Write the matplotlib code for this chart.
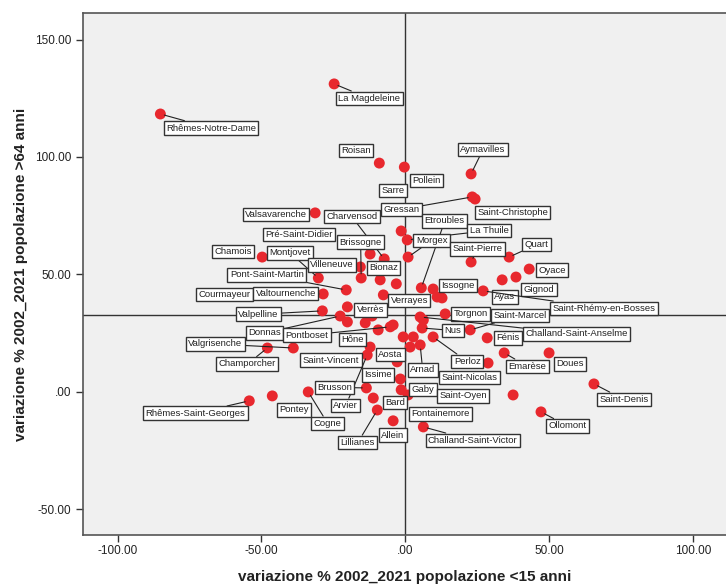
import matplotlib.pyplot as plt
from matplotlib.ticker import FixedLocator, FuncFormatter

# Comuni valdostani: variazione % 2002-2021 popolazione <15 anni (x) e >64 anni (y)
comuni = [
    "Rhêmes-Notre-Dame", "La Magdeleine", "Roisan", "Pollein", "Aymavilles",
    "Sarre", "Gressan", "Saint-Christophe", "Valsavarenche", "Charvensod",
    "Etroubles", "La Thuile", "Morgex", "Pré-Saint-Didier", "Brissogne",
    "Chamois", "Montjovet", "Villeneuve", "Bionaz", "Quart",
    "Saint-Pierre", "Oyace", "Gignod", "Ayas", "Saint-Rhémy-en-Bosses",
    "Issogne", "Pont-Saint-Martin", "Courmayeur", "Valtournenche", "Verrayes",
    "Valpelline", "Verrès", "Donnas", "Pontboset", "Hône",
    "Torgnon", "Saint-Marcel", "Nus", "Challand-Saint-Anselme", "Fénis",
    "Valgrisenche", "Champorcher", "Saint-Vincent", "Arvier", "Aosta",
    "Issime", "Perloz", "Arnad", "Saint-Nicolas", "Emarèse",
    "Doues", "Brusson", "Gaby", "Fontainemore", "Bard",
    "Saint-Oyen", "Saint-Denis", "Ollomont", "Rhêmes-Saint-Georges", "Pontey",
    "Cogne", "Lillianes", "Allein", "Challand-Saint-Victor",
]
var_giovani = [
    -85.1, -24.7, -9.0, -0.3, 22.9,
    -1.4, 23.3, 24.3, -31.3, -7.3,
    5.6, 0.7, 1.0, -12.2, -15.3,
    -49.7, -30.2, -15.6, -8.7, 36.1,
    22.9, 43.1, 38.5, 33.7, 27.1,
    11.1, -20.5, -28.5, -7.6, -3.1,
    -28.8, -20.1, -22.6, -5.2, -13.9,
    13.9, 22.6, 5.9, 5.2, 28.5,
    -38.9, -47.9, -12.2, -13.2, 1.7,
    -2.8, 9.7, 5.2, 28.8, 34.4,
    50.0, -13.5, -1.7, -1.4, -11.1,
    37.5, 65.6, 47.2, -54.2, -46.2,
    -33.7, -9.7, -4.2, 6.3,
]
var_anziani = [
    118.3, 131.1, 97.4, 95.7, 92.8,
    68.5, 83.0, 82.1, 76.2, 56.6,
    44.3, 64.7, 57.4, 58.7, 48.5,
    57.4, 48.5, 53.2, 47.7, 57.4,
    55.3, 52.3, 48.9, 47.7, 43.0,
    40.4, 43.4, 41.7, 41.3, 46.0,
    34.5, 36.2, 32.3, 27.7, 29.4,
    33.2, 26.4, 27.2, 31.9, 23.0,
    18.7, 18.7, 19.1, 15.7, 19.1,
    12.8, 23.4, 20.0, 12.3, 16.6,
    16.6, 1.7, 5.5, 0.9, -2.6,
    -1.3, 3.4, -8.5, -3.8, -1.7,
    0.0, -7.7, -12.3, -14.9,
]
# comuni senza etichetta nel grafico
altri_x = [9.7, 12.8, 6.3, 2.8, -20.1, -4.2, -0.7, -9.4, 1.0, -11.5]
altri_y = [43.8, 40.0, 30.6, 23.4, 29.8, 28.5, 23.4, 26.4, -1.3, 32.3]

media_x = 0.0
media_y = 32.8

# spostamento delle etichette (punti) e linea di richiamo sì/no
etichette = {
    "Rhêmes-Notre-Dame": (36.4, -10.1, True),
    "La Magdeleine": (25.2, -10.4, True),
    "Roisan": (-16.6, 9.0, False),
    "Pollein": (16.2, -9.7, False),
    "Aymavilles": (8.6, 17.6, True),
    "Sarre": (-6.1, 29.2, False),
    "Gressan": (-51.1, -9.0, True),
    "Saint-Christophe": (27.0, -9.7, False),
    "Valsavarenche": (-28.1, -1.1, False),
    "Charvensod": (-23.4, 30.6, True),
    "Etroubles": (16.9, 48.2, True),
    "La Thuile": (59.0, 6.8, True),
    "Morgex": (16.9, 11.9, True),
    "Pré-Saint-Didier": (-51.1, 14.0, False),
    "Brissogne": (-0.4, 25.9, True),
    "Chamois": (-20.9, 4.0, False),
    "Montjovet": (-20.2, 18.0, True),
    "Villeneuve": (-20.5, 1.4, False),
    "Bionaz": (2.5, 8.6, False),
    "Quart": (19.8, 9.0, True),
    "Saint-Pierre": (4.7, 9.4, True),
    "Oyace": (16.6, -0.7, False),
    "Gignod": (16.6, -9.0, False),
    "Ayas": (1.8, -12.2, False),
    "Saint-Rhémy-en-Bosses": (87.1, -12.6, True),
    "Issogne": (14.8, 8.3, False),
    "Pont-Saint-Martin": (-57.2, 10.8, True),
    "Courmayeur": (-71.3, -0.4, True),
    "Valtournenche": (-70.2, 1.1, False),
    "Verrayes": (9.4, -11.9, False),
    "Valpelline": (-46.1, -2.5, True),
    "Verrès": (16.6, -2.2, False),
    "Donnas": (-54.4, -12.2, True),
    "Pontboset": (-60.1, -6.1, True),
    "Hône": (-9.4, -11.9, False),
    "Torgnon": (18.4, 0.0, False),
    "Saint-Marcel": (36.0, 10.4, True),
    "Nus": (22.3, -1.8, True),
    "Challand-Saint-Anselme": (112.7, -12.2, True),
    "Fénis": (15.1, 0.0, False),
    "Valgrisenche": (-56.2, 2.9, True),
    "Champorcher": (-14.4, -11.5, True),
    "Saint-Vincent": (-28.1, -9.4, False),
    "Arvier": (-15.5, -36.4, True),
    "Aosta": (-14.0, -5.4, False),
    "Issime": (-13.7, -9.4, False),
    "Perloz": (24.5, -17.6, True),
    "Arnad": (1.8, -18.0, True),
    "Saint-Nicolas": (-13.3, -10.4, False),
    "Emarèse": (16.9, -9.7, True),
    "Doues": (14.8, -7.9, False),
    "Brusson": (-23.0, 0.4, True),
    "Gaby": (16.2, -7.6, False),
    "Fontainemore": (28.1, -17.3, False),
    "Bard": (15.5, -3.2, False),
    "Saint-Oyen": (-36.0, -0.7, False),
    "Saint-Denis": (21.6, -11.2, True),
    "Ollomont": (19.1, -10.1, True),
    "Rhêmes-Saint-Georges": (-38.9, -9.0, True),
    "Pontey": (15.5, -10.1, False),
    "Cogne": (14.0, -22.7, True),
    "Lillianes": (-14.0, -23.4, True),
    "Allein": (-0.4, -10.4, False),
    "Challand-Saint-Victor": (35.6, -9.7, True),
}

plt.rcParams['font.family'] = ['Liberation Sans', 'DejaVu Sans']

fig = plt.figure(figsize=(7.26, 5.87), dpi=100)
ax = fig.add_axes([0.1143, 0.0886, 0.8857, 0.8893])
ax.set_facecolor('#f0f0f0')

ax.set_xlim(-112, 111.5)
ax.set_ylim(-60.9, 161.3)

# linee di riferimento
ax.axvline(media_x, color='#333333', linewidth=1.0, zorder=1)
ax.axhline(media_y, color='#333333', linewidth=1.0, zorder=1)

rosso = '#e8282e'
ax.scatter(altri_x, altri_y, s=62, color=rosso, edgecolors='none', zorder=2)
ax.scatter(var_giovani, var_anziani, s=62, color=rosso, edgecolors='none', zorder=2)

for nome, xv, yv in zip(comuni, var_giovani, var_anziani):
    dx, dy, linea = etichette[nome]
    freccia = None
    if linea:
        freccia = dict(arrowstyle='-', color='#222222', lw=0.8, shrinkA=0, shrinkB=3)
    ax.annotate(nome, xy=(xv, yv), xytext=(dx, dy), textcoords='offset points',
                ha='center', va='center', fontsize=6.8, color='#222222',
                bbox=dict(boxstyle='square,pad=0.25', fc='white', ec='#333333', lw=1.0),
                arrowprops=freccia, zorder=3)

def formato(v, pos):
    if abs(v) < 1e-9:
        return '.00'
    return f'{v:.2f}'

ax.xaxis.set_major_locator(FixedLocator([-100, -50, 0, 50, 100]))
ax.yaxis.set_major_locator(FixedLocator([-50, 0, 50, 100, 150]))
ax.xaxis.set_major_formatter(FuncFormatter(formato))
ax.yaxis.set_major_formatter(FuncFormatter(formato))
ax.tick_params(direction='out', length=5, width=1, color='#333333',
               labelsize=8.5, labelcolor='#222222')
ax.tick_params(axis='x', pad=2.5)

for lato in ['left', 'bottom', 'top']:
    ax.spines[lato].set_color('#555555')
    ax.spines[lato].set_linewidth(1.2)
ax.spines['right'].set_visible(False)

ax.set_xlabel('variazione % 2002_2021 popolazione <15 anni', fontsize=11,
              fontweight='bold', color='#222222', labelpad=9)
ax.set_ylabel('variazione % 2002_2021 popolazione >64 anni', fontsize=11,
              fontweight='bold', color='#222222', labelpad=5)

fig.savefig('out.png', dpi=100)
